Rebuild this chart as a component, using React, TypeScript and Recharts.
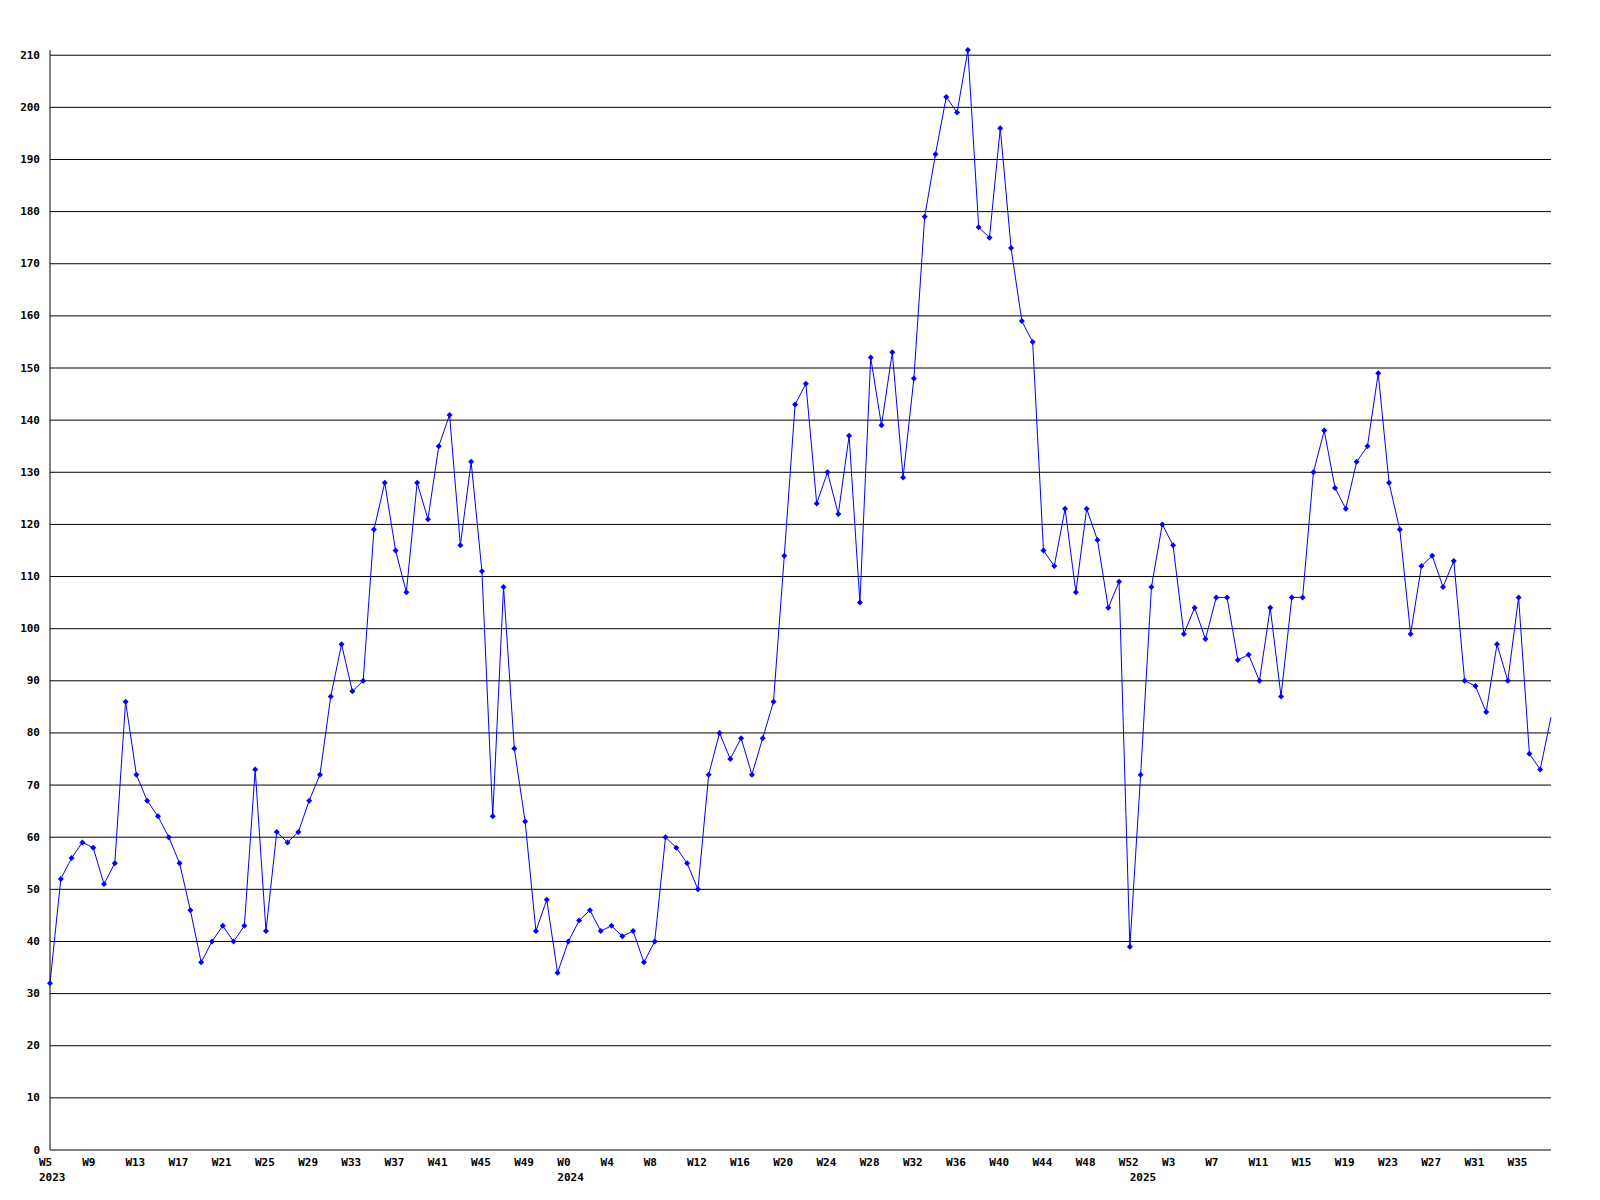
import { LineChart, Line, XAxis, YAxis, CartesianGrid } from "recharts";

// weekly values
const values2023 = [
  32, 52, 56, 59, 58, 51, 55, 86, 72, 67, 64, 60, 55, 46, 36, 40, 43, 40, 43, 73,
  42, 61, 59, 61, 67, 72, 87, 97, 88, 90, 119, 128, 115, 107, 128, 121, 135, 141,
  116, 132, 111, 64, 108, 77, 63, 42, 48, 34,
];
const values2024 = [
  40, 44, 46, 42, 43, 41, 42, 36, 40, 60, 58, 55, 50, 72, 80, 75, 79, 72, 79, 86,
  114, 143, 147, 124, 130, 122, 137, 105, 152, 139, 153, 129, 148, 179, 191, 202,
  199, 211, 177, 175, 196, 173, 159, 155, 115, 112, 123, 107, 123, 117, 104, 109, 39,
];
const values2025 = [
  72, 108, 120, 116, 99, 104, 98, 106, 106, 94, 95, 90, 104, 87, 106, 106, 130,
  138, 127, 123, 132, 135, 149, 128, 119, 99, 112, 114, 108, 113, 90, 89, 84, 97,
  90, 106, 76, 73, 83,
];

// year, first week number shown for that year
const years = [
  { year: "2023", firstWeek: 5, values: values2023 },
  { year: "2024", firstWeek: 0, values: values2024 },
  { year: "2025", firstWeek: 0, values: values2025 },
];

const yTicks = [0, 10, 20, 30, 40, 50, 60, 70, 80, 90, 100, 110, 120, 130, 140, 150, 160, 170, 180, 190, 200, 210];
const Y_MAX = 211;

const data: { i: number; week: number; year: string; first: boolean; value: number }[] = [];
years.forEach((y) => {
  y.values.forEach((v, k) => {
    data.push({ i: data.length, week: y.firstWeek + k, year: y.year, first: k === 0, value: v });
  });
});
const lastIdx = data.length - 1;
const xTicks = data.map((d) => d.i);

const FONT = "'DejaVu Sans Mono', 'Liberation Mono', monospace";

const XTick = (props: any) => {
  const { x, payload } = props;
  const d = data[payload.value];
  if (!d) return <g />;
  return (
    <g>
      {d.i % 4 === 0 && (
        <text x={x - 11} y={1162} textAnchor="start" dominantBaseline="central" fontFamily={FONT} fontSize={11} fontWeight="bold" fill="#000">
          {`W${d.week}`}
        </text>
      )}
      {d.first && (
        <text x={x - 11} y={1177} textAnchor="start" dominantBaseline="central" fontFamily={FONT} fontSize={11} fontWeight="bold" fill="#000">
          {d.year}
        </text>
      )}
    </g>
  );
};

const YTick = (props: any) => {
  const { y, payload } = props;
  return (
    <text x={40} y={y} textAnchor="end" dominantBaseline="central" fontFamily={FONT} fontSize={11} fontWeight="bold" fill="#000">
      {payload.value}
    </text>
  );
};

const Marker = (props: any) => {
  const { cx, cy, index } = props;
  if (index === lastIdx || cx == null) return <g key={`m${index}`} />;
  return (
    <path
      key={`m${index}`}
      d={`M${cx - 3},${cy} L${cx},${cy - 3} L${cx + 3},${cy} L${cx},${cy + 3} Z`}
      fill="#0000ff"
      stroke="none"
    />
  );
};

// grid only at the labelled values, not at the top edge of the plot
const gridRows = (p: any) => {
  const off = p?.offset;
  if (!off) return [];
  return yTicks.filter((t) => t > 0).map((t) => off.top + off.height * (1 - t / Y_MAX));
};

export default function App() {
  return (
    <div style={{ position: "absolute", left: 0, top: 0, width: 1600, height: 1200, background: "#fff" }}>
      <LineChart width={1600} height={1200} data={data} margin={{ top: 50, right: 49, bottom: 0, left: 0 }}>
        <CartesianGrid vertical={false} stroke="#000" strokeWidth={1} horizontalCoordinatesGenerator={gridRows} />
        <XAxis
          dataKey="i"
          type="number"
          domain={[0, lastIdx]}
          ticks={xTicks}
          interval={0}
          height={50}
          axisLine={{ stroke: "#000" }}
          tickLine={false}
          tick={<XTick />}
        />
        <YAxis
          domain={[0, Y_MAX]}
          ticks={yTicks}
          interval={0}
          width={50}
          axisLine={{ stroke: "#000" }}
          tickLine={false}
          tick={<YTick />}
        />
        <Line
          type="linear"
          dataKey="value"
          stroke="#0000ff"
          strokeWidth={1}
          dot={Marker}
          activeDot={false}
          isAnimationActive={false}
        />
      </LineChart>
    </div>
  );
}
